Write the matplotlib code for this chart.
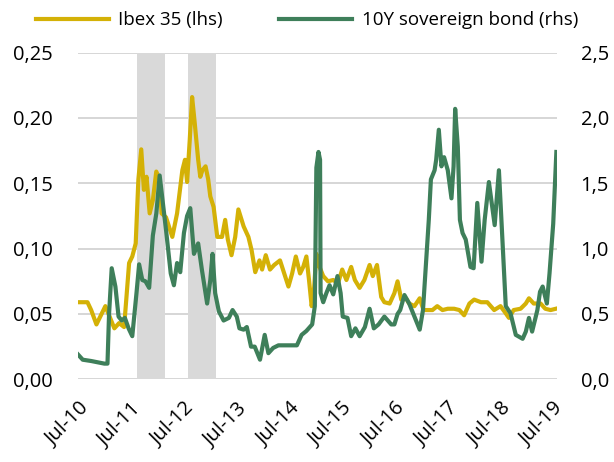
import matplotlib
matplotlib.use("Agg")
import matplotlib.pyplot as plt
import pandas as pd

plt.rcParams["font.family"] = ["Open Sans", "DejaVu Sans"]
plt.rcParams["font.size"] = 14.5

# x values are decimal years
ibex_x = [2010.48, 2010.66, 2010.73, 2010.83, 2011.00, 2011.07, 2011.17, 2011.26, 2011.355, 2011.40,
          2011.45, 2011.51, 2011.575, 2011.626, 2011.68, 2011.73, 2011.78, 2011.84, 2011.90, 2011.965,
          2012.03, 2012.066, 2012.15, 2012.27, 2012.36, 2012.46, 2012.51, 2012.55, 2012.60, 2012.645,
          2012.695, 2012.76, 2012.80, 2012.84, 2012.90, 2012.95, 2012.99, 2013.05, 2013.12, 2013.21,
          2013.27, 2013.32, 2013.39, 2013.46, 2013.52, 2013.62, 2013.71, 2013.77, 2013.84, 2013.92,
          2013.97, 2014.04, 2014.12, 2014.20, 2014.31, 2014.39, 2014.47, 2014.54, 2014.61, 2014.69,
          2014.75, 2014.81, 2014.86, 2014.91, 2014.95, 2015.00, 2015.06, 2015.13, 2015.22, 2015.32,
          2015.41, 2015.49, 2015.57, 2015.66, 2015.73, 2015.82, 2015.91, 2016.01, 2016.07, 2016.15,
          2016.23, 2016.29, 2016.39, 2016.48, 2016.54, 2016.61, 2016.70, 2016.76, 2016.86, 2016.96,
          2017.03, 2017.10, 2017.20, 2017.29, 2017.39, 2017.49, 2017.61, 2017.71, 2017.80, 2017.90,
          2017.99, 2018.12, 2018.24, 2018.37, 2018.49, 2018.59, 2018.65, 2018.74, 2018.87, 2018.97,
          2019.03, 2019.12, 2019.25, 2019.34, 2019.44, 2019.54]
ibex_vol = [0.059, 0.059, 0.053, 0.042, 0.056, 0.049, 0.039, 0.043, 0.040, 0.063,
            0.089, 0.094, 0.104, 0.153, 0.176, 0.145, 0.155, 0.127, 0.137, 0.159,
            0.153, 0.127, 0.124, 0.109, 0.127, 0.160, 0.168, 0.151, 0.183, 0.216,
            0.196, 0.168, 0.155, 0.160, 0.163, 0.153, 0.140, 0.132, 0.109, 0.109,
            0.122, 0.107, 0.095, 0.109, 0.130, 0.117, 0.109, 0.099, 0.082, 0.091,
            0.084, 0.095, 0.084, 0.0875, 0.091, 0.081, 0.071, 0.081, 0.094, 0.081,
            0.086, 0.094, 0.076, 0.056, 0.066, 0.096, 0.086, 0.079, 0.075, 0.076,
            0.0735, 0.084, 0.076, 0.086, 0.076, 0.070, 0.076, 0.0875, 0.079, 0.0875,
            0.063, 0.059, 0.058, 0.066, 0.075, 0.061, 0.062, 0.058, 0.056, 0.062,
            0.053, 0.053, 0.053, 0.056, 0.053, 0.054, 0.054, 0.053, 0.049, 0.058,
            0.061, 0.059, 0.059, 0.053, 0.056, 0.0505, 0.047, 0.053, 0.054, 0.058,
            0.062, 0.058, 0.058, 0.054, 0.053, 0.054]

bond_x = [2010.48, 2010.57, 2010.73, 2010.85, 2010.98, 2011.04, 2011.07, 2011.12, 2011.19, 2011.25,
          2011.31, 2011.37, 2011.44, 2011.51, 2011.59, 2011.64, 2011.70, 2011.76, 2011.83, 2011.90,
          2011.966, 2012.03, 2012.09, 2012.154, 2012.24, 2012.30, 2012.36, 2012.42, 2012.49, 2012.55,
          2012.61, 2012.68, 2012.76, 2012.83, 2012.93, 2012.99, 2013.03, 2013.08, 2013.15, 2013.24,
          2013.34, 2013.41, 2013.49, 2013.54, 2013.62, 2013.68, 2013.76, 2013.83, 2013.93, 2014.02,
          2014.09, 2014.18, 2014.28, 2014.41, 2014.53, 2014.63, 2014.72, 2014.81, 2014.92, 2014.97,
          2015.00, 2015.04, 2015.07, 2015.08, 2015.13, 2015.19, 2015.25, 2015.32, 2015.40, 2015.46,
          2015.50, 2015.59, 2015.66, 2015.74, 2015.82, 2015.92, 2016.01, 2016.09, 2016.18, 2016.29,
          2016.42, 2016.48, 2016.54, 2016.59, 2016.67, 2016.76, 2016.86, 2016.96, 2017.02, 2017.08,
          2017.13, 2017.17, 2017.24, 2017.27, 2017.32, 2017.37, 2017.42, 2017.49, 2017.56, 2017.60,
          2017.63, 2017.68, 2017.72, 2017.77, 2017.83, 2017.92, 2017.98, 2018.05, 2018.13, 2018.19,
          2018.27, 2018.38, 2018.46, 2018.53, 2018.59, 2018.68, 2018.78, 2018.91, 2018.97, 2019.03,
          2019.09, 2019.19, 2019.24, 2019.29, 2019.37, 2019.42, 2019.49, 2019.55]
bond_vol = [0.19, 0.15, 0.14, 0.13, 0.12, 0.12, 0.50, 0.85, 0.71, 0.48,
            0.45, 0.47, 0.39, 0.33, 0.66, 0.88, 0.76, 0.75, 0.70, 1.10,
            1.27, 1.56, 1.35, 1.13, 0.81, 0.72, 0.89, 0.82, 1.12, 1.25,
            1.31, 0.96, 1.04, 0.84, 0.58, 0.76, 0.96, 0.66, 0.52, 0.45,
            0.47, 0.53, 0.48, 0.39, 0.38, 0.40, 0.25, 0.25, 0.15, 0.34,
            0.20, 0.24, 0.26, 0.26, 0.26, 0.26, 0.34, 0.37, 0.42, 0.56,
            1.62, 1.74, 1.68, 0.66, 0.59, 0.66, 0.72, 0.65, 0.79, 0.66,
            0.48, 0.47, 0.33, 0.39, 0.33, 0.40, 0.54, 0.39, 0.42, 0.48,
            0.42, 0.42, 0.50, 0.53, 0.645, 0.58, 0.48, 0.38, 0.53, 0.91,
            1.22, 1.53, 1.60, 1.68, 1.91, 1.63, 1.70, 1.60, 1.385, 1.63,
            2.07, 1.78, 1.22, 1.12, 1.07, 0.86, 0.85, 1.35, 0.90, 1.22,
            1.51, 1.18, 1.60, 1.04, 0.56, 0.505, 0.34, 0.31, 0.365, 0.47,
            0.365, 0.53, 0.67, 0.71, 0.58, 0.81, 1.19, 1.74]

shaded = [("2011-08-05", "2012-02-18"), ("2012-07-25", "2013-02-08")]
tick_years = list(range(2010, 2020))
tick_labels = ["Jul-10", "Jul-11", "Jul-12", "Jul-13", "Jul-14",
               "Jul-15", "Jul-16", "Jul-17", "Jul-18", "Jul-19"]

yellow = "#D4B106"
green = "#3E7F5A"


def to_date(y):
    year = int(y)
    return pd.Timestamp(year, 1, 1) + pd.Timedelta(days=(y - year) * 365.25)


ibex_dates = [to_date(v) for v in ibex_x]
bond_dates = [to_date(v) for v in bond_x]

fig = plt.figure(figsize=(6.14, 4.62), dpi=100)
ax = fig.add_axes([0.127, 0.179, 0.780, 0.707])
ax2 = ax.twinx()

for start, end in shaded:
    ax.axvspan(pd.Timestamp(start), pd.Timestamp(end), color="#D9D9D9", lw=0, zorder=1)

for v in [0, 0.05, 0.10, 0.15, 0.20, 0.25]:
    ax.axhline(v, color="#D0D0D0", lw=1.2, zorder=0)

l1, = ax.plot(ibex_dates, ibex_vol, color=yellow, lw=3, zorder=3, label="Ibex 35 (lhs)")
l2, = ax2.plot(bond_dates, bond_vol, color=green, lw=3, zorder=3, label="10Y sovereign bond (rhs)")

ax.set_ylim(0, 0.25)
ax2.set_ylim(0, 2.5)
ax.set_xlim(to_date(2010.48), to_date(2019.56))

ax.set_yticks([0, 0.05, 0.10, 0.15, 0.20, 0.25])
ax.set_yticklabels(["0,00", "0,05", "0,10", "0,15", "0,20", "0,25"])
ax2.set_yticks([0, 0.5, 1.0, 1.5, 2.0, 2.5])
ax2.set_yticklabels(["0,0", "0,5", "1,0", "1,5", "2,0", "2,5"])

ax.set_xticks([pd.Timestamp(y, 7, 1) for y in tick_years])
ax.set_xticklabels(tick_labels, rotation=45, ha="right", va="top", rotation_mode="anchor")

for a in (ax, ax2):
    for s in a.spines.values():
        s.set_visible(False)
    a.tick_params(length=0)
ax.tick_params(axis="y", pad=18)
ax2.tick_params(axis="y", pad=17)
ax.tick_params(axis="x", pad=14)

fig.legend(handles=[l1, l2], loc="upper center", bbox_to_anchor=(0.5, 1.012), ncol=2,
           frameon=False, handlelength=3.9, handletextpad=0.5, columnspacing=3.0, fontsize=13.5)

fig.savefig("out.png", dpi=100)
